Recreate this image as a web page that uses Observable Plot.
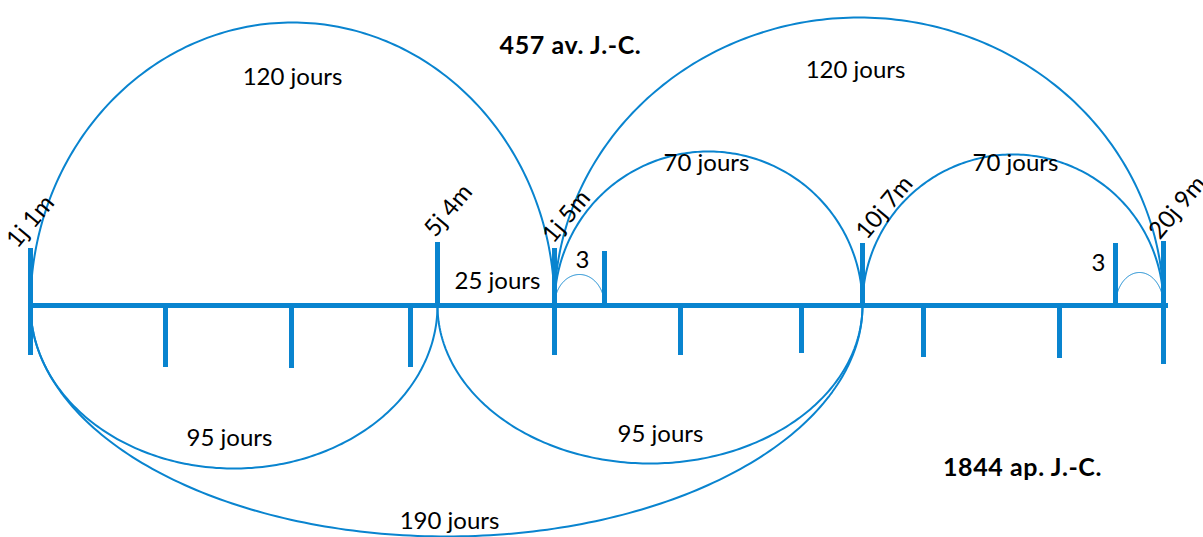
<!DOCTYPE html>
<html>
<head>
<meta charset="utf-8">
<script src="https://cdn.jsdelivr.net/npm/d3@7"></script>
<script src="https://cdn.jsdelivr.net/npm/@observablehq/plot@0.6"></script>
<style>
  html, body { margin: 0; padding: 0; background: #fff; }
  #chart svg { display: block; }
  #chart g[font-weight="bold"] text { letter-spacing: 0.6px; }
</style>
</head>
<body>
<div id="chart"></div>
<script>
// ---- Data (units: horizontal position along the timeline, vertical offset from the timeline) ----
const lineStart = 30;
const lineEnd = 1168;

const upTickX      = [30, 437, 554, 604, 862, 1115, 1163];
const upTickTop    = [57, 63, 57, 54, 62, 62, 64];
const downTickX    = [30, 165, 291, 410, 554, 680, 801, 923, 1059, 1163];
const downTickLow  = [-50, -62, -63, -62, -50, -50, -48, -52, -53, -59];

const arcFrom   = [30, 554, 554, 862, 554, 1115, 30, 437, 30];
const arcTo     = [554, 1163, 862, 1163, 604, 1163, 437, 862, 862];
const arcHeight = [283, 288, 154, 151, 31, 33, -163, -158, -231];
const arcThin   = [false, false, false, false, true, true, false, false, false];

const labelText = ["120 jours", "120 jours", "70 jours", "70 jours", "25 jours", "3", "3", "95 jours", "95 jours", "190 jours"];
const labelX    = [292, 855, 706, 1015, 497, 582, 1098, 229, 660, 449];
const labelY    = [228, 235, 142, 142, 24, 45, 42, -133, -129, -216];

const dateText = ["1j 1m", "5j 4m", "1j 5m", "10j 7m", "20j 9m"];
const dateX    = [30, 448, 566, 884, 1177];
const dateY    = [84, 95, 89, 98, 98];

const eraText = ["457 av. J.-C.", "1844 ap. J.-C."];
const eraX    = [570, 1022];
const eraY    = [260, -162];

// ---- Build tables ----
const blue = "#0984cf";
const font = "Lato, 'Open Sans', sans-serif";

const arcPoints = [];
arcFrom.forEach((x0, i) => {
  const cx = (x0 + arcTo[i]) / 2, rx = (arcTo[i] - x0) / 2, ry = arcHeight[i];
  for (let d = 0; d <= 180; d += 1) {
    const t = d * Math.PI / 180;
    arcPoints.push({arc: i, thin: arcThin[i], x: cx - rx * Math.cos(t), y: ry * Math.sin(t)});
  }
});

const upTicks = upTickX.map((x, i) => ({x, y1: 0, y2: upTickTop[i]}));
const downTicks = downTickX.map((x, i) => ({x, y1: 0, y2: downTickLow[i]}));
const labels = labelText.map((t, i) => ({t, x: labelX[i], y: labelY[i]}));
const dates = dateText.map((t, i) => ({t, x: dateX[i], y: dateY[i]}));
const eras = eraText.map((t, i) => ({t, x: eraX[i], y: eraY[i]}));

const chart = Plot.plot({
  width: 1203,
  height: 537,
  margin: 0,
  style: {fontFamily: font, background: "#fff"},
  x: {domain: [0, 1203], range: [0, 1203], axis: null},
  y: {domain: [-232, 305], range: [537, 0], axis: null},
  marks: [
    Plot.line(arcPoints.filter(d => !d.thin), {x: "x", y: "y", z: "arc", stroke: blue, strokeWidth: 2}),
    Plot.line(arcPoints.filter(d => d.thin), {x: "x", y: "y", z: "arc", stroke: blue, strokeWidth: 1}),
    Plot.ruleY([0], {x1: lineStart, x2: lineEnd, stroke: blue, strokeWidth: 5}),
    Plot.ruleX(upTicks, {x: "x", y1: "y1", y2: "y2", stroke: blue, strokeWidth: 5}),
    Plot.ruleX(downTicks, {x: "x", y1: "y1", y2: "y2", stroke: blue, strokeWidth: 5}),
    Plot.text(labels, {x: "x", y: "y", text: "t", fontSize: 24, fill: "#000"}),
    Plot.text(dates, {x: "x", y: "y", text: "t", fontSize: 24, rotate: -50, fill: "#000"}),
    Plot.text(eras, {x: "x", y: "y", text: "t", fontSize: 25, fontWeight: "bold", fill: "#000"})
  ]
});
document.getElementById("chart").appendChild(chart);
</script>
</body>
</html>
